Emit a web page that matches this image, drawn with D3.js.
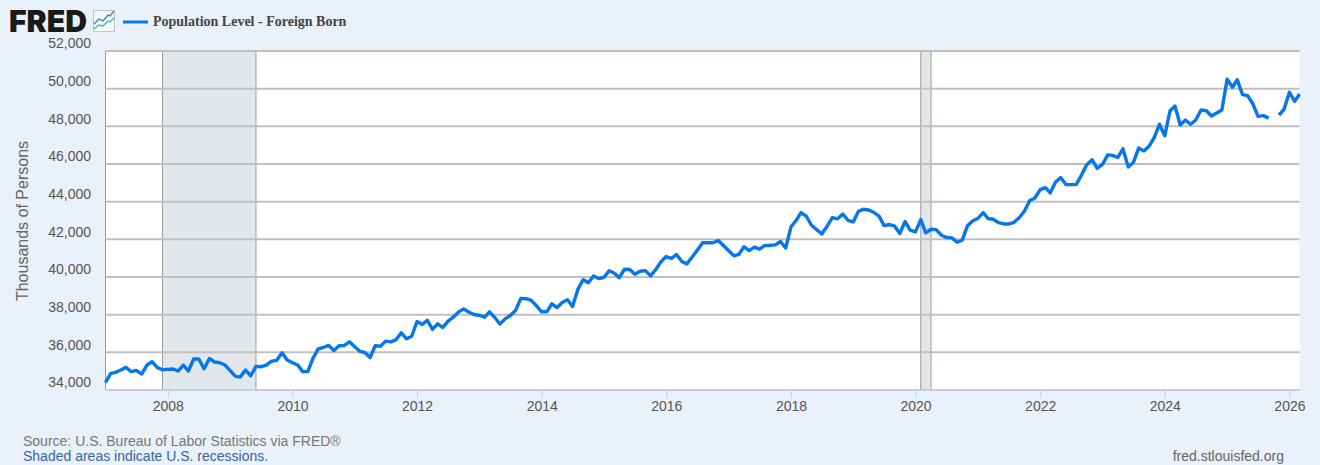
<!DOCTYPE html>
<meta charset="utf-8">
<style>
    body { margin: 0; background: #e9f1fa; }
    svg { display: block; font-family: "Liberation Sans", Arial, sans-serif; }
    .grid line { stroke: #c0c0c0; stroke-width: 2px; }
    .grid path { display: none; }
    .y-labels path, .y-labels line { display: none; }
    .y-labels text { font-size: 14px; fill: #555; }
    .x-axis path { stroke: #c0d0e0; stroke-width: 2px; }
    .x-axis line { stroke: #c0d0e0; }
    .x-axis text { font-size: 14px; fill: #555; }
</style>
<svg width="1320" height="465"></svg>
<script src="https://d3js.org/d3.v7.min.js"></script>
<script>
    // monthly values, thousands of persons, first one is Jan 2007. null = no survey (Oct 2025)
    var firstMonth = "2007-01-01";
    var population = [
        34380, 34860, 34910, 35035, 35175, 34945, 35015, 34820, 35300, 35475, 35160, 35050,
        35070, 35090, 34980, 35300, 34980, 35620, 35620, 35100, 35650, 35460, 35420, 35300,
        35000, 34700, 34660, 35035, 34730, 35230, 35210, 35300, 35510, 35550, 35950, 35565,
        35420, 35300, 34950, 34950, 35650, 36160, 36230, 36340, 36070, 36320, 36340, 36530,
        36265, 36020, 35965, 35700, 36320, 36300, 36570, 36530, 36650, 37010, 36690, 36830,
        37610, 37450, 37680, 37190, 37490, 37290, 37630, 37840, 38120, 38280, 38100, 37980,
        37930, 37840, 38120, 37820, 37480, 37750, 37930, 38200, 38840, 38820, 38730, 38445,
        38125, 38140, 38550, 38355, 38620, 38765, 38410, 39320, 39830, 39670, 40030, 39890,
        39960, 40310, 40190, 39940, 40385, 40370, 40120, 40280, 40310, 40030, 40370, 40780,
        41060, 40955, 41170, 40795, 40670, 41040, 41400, 41790, 41790, 41790, 41910, 41650,
        41370, 41100, 41170, 41580, 41370, 41560, 41450, 41650, 41650, 41680, 41860, 41510,
        42630, 42985, 43390, 43200, 42720, 42490, 42260, 42670, 43130, 43060, 43320, 42985,
        42900, 43460, 43570, 43530, 43410, 43210, 42700, 42760, 42670, 42280, 42920, 42460,
        42370, 43020, 42320, 42510, 42490, 42190, 42070, 42050, 41820, 41930, 42700, 42950,
        43090, 43390, 43080, 43040, 42860, 42790, 42790, 42880, 43130, 43480, 44030, 44170,
        44610, 44720, 44440, 45020, 45250, 44880, 44880, 44890, 45400, 45940, 46200, 45740,
        45950, 46460, 46430, 46320, 46780, 45820, 46050, 46820, 46670, 46920, 47380, 48090,
        47470, 48800, 49050, 48040, 48310, 48080, 48310, 48840, 48800, 48520, 48680, 48840,
        50480, 50050, 50450, 49660, 49600, 49160, 48500, 48540, 48410, null, 48570, 48890,
        49780, 49300, 49690
    ];
    var recessions = [["2007-12-01", "2009-06-01"], ["2020-02-01", "2020-04-01"]];
    var yTicks = [34000, 36000, 38000, 40000, 42000, 44000, 46000, 48000, 50000, 52000];
    var xTicks = [2008, 2010, 2012, 2014, 2016, 2018, 2020, 2022, 2024, 2026];

    var svg = d3.select("svg");
    var left = 105.5, right = 1299.5, top_ = 50.5, bottom = 389.5;

    var start = new Date(firstMonth);
    var rows = population.map(function (v, i) {
        return { date: d3.utcMonth.offset(start, i), value: v };
    });

    var x = d3.scaleUtc()
        .domain([start, rows[rows.length - 1].date])
        .range([left, right]);
    var y = d3.scaleLinear().domain([34000, 52000]).range([bottom, top_]);

    // plot background
    svg.append("rect")
        .attr("x", left).attr("y", top_)
        .attr("width", right - left).attr("height", bottom - top_)
        .attr("fill", "#fff");

    // recession bands sit under the grid
    var bands = svg.append("g").selectAll("g").data(recessions).enter().append("g");
    bands.append("rect")
        .attr("x", function (d) { return x(new Date(d[0])); })
        .attr("y", top_)
        .attr("width", function (d) { return x(new Date(d[1])) - x(new Date(d[0])); })
        .attr("height", bottom - top_)
        .attr("fill", "#e2e7ec");
    [0, 1].forEach(function (k) {
        bands.append("line")
            .attr("x1", function (d) { return x(new Date(d[k])); })
            .attr("x2", function (d) { return x(new Date(d[k])); })
            .attr("y1", top_).attr("y2", bottom)
            .attr("stroke", "#9a9a9a");
    });

    // left edge
    svg.append("line")
        .attr("x1", left).attr("x2", left)
        .attr("y1", top_).attr("y2", bottom)
        .attr("stroke", "#9a9a9a");

    // horizontal grid, the bottom one is the x axis line
    svg.append("g")
        .attr("class", "grid")
        .attr("transform", "translate(" + left + ",0)")
        .call(d3.axisRight(y)
            .tickValues(yTicks.slice(1))
            .tickSize(right - left)
            .tickFormat(""));

    svg.append("g")
        .attr("class", "y-labels")
        .attr("transform", "translate(91,-7)")
        .call(d3.axisLeft(y)
            .tickValues(yTicks)
            .tickSize(0)
            .tickPadding(0)
            .tickFormat(d3.format(",")));

    svg.append("g")
        .attr("class", "x-axis")
        .attr("transform", "translate(0," + bottom + ")")
        .call(d3.axisBottom(x)
            .tickValues(xTicks.map(function (yr) { return new Date(Date.UTC(yr, 0, 1)); }))
            .tickSize(8)
            .tickSizeOuter(0)
            .tickPadding(4)
            .tickFormat(d3.utcFormat("%Y")));

    var line = d3.line()
        .defined(function (d) { return d.value !== null; })
        .x(function (d) { return x(d.date); })
        .y(function (d) { return y(d.value); });

    svg.append("path")
        .datum(rows)
        .attr("d", line)
        .attr("fill", "none")
        .attr("stroke", "#0676e8")
        .attr("stroke-width", 3.4)
        .attr("stroke-linejoin", "round");

    // y title
    svg.append("text")
        .attr("transform", "translate(28,221) rotate(-90)")
        .attr("text-anchor", "middle")
        .attr("font-size", 16)
        .attr("fill", "#666")
        .text("Thousands of Persons");

    // logo
    svg.append("text")
        .attr("x", 9).attr("y", 32)
        .attr("font-family", "Inter, 'Liberation Sans', sans-serif")
        .attr("font-size", 30)
        .attr("font-weight", 900)
        .attr("fill", "#1a1a1a")
        .attr("textLength", 78)
        .attr("lengthAdjust", "spacingAndGlyphs")
        .text("FRED");
    svg.append("rect")
        .attr("x", 93.5).attr("y", 10.5)
        .attr("width", 21).attr("height", 21)
        .attr("fill", "#f4f7fb")
        .attr("stroke", "#c4c4c4");
    svg.append("path")
        .attr("d", "M94,24 L99,19 L103,21 L108,15 L110,16 L114,11")
        .attr("fill", "none").attr("stroke", "#2a7fd6").attr("stroke-width", 1.3);
    svg.append("path")
        .attr("d", "M94,29 L99,25 L103,26 L108,21 L110,22 L114,18")
        .attr("fill", "none").attr("stroke", "#4db39a").attr("stroke-width", 1.3);

    // legend
    svg.append("line")
        .attr("x1", 123).attr("x2", 148)
        .attr("y1", 22).attr("y2", 22)
        .attr("stroke", "#0676e8")
        .attr("stroke-width", 3);
    svg.append("text")
        .attr("x", 153).attr("y", 26)
        .attr("font-family", "'Liberation Serif', serif")
        .attr("font-weight", "bold")
        .attr("font-size", 14)
        .attr("fill", "#444")
        .text("Population Level - Foreign Born");

    // footer
    svg.append("text")
        .attr("x", 23).attr("y", 446)
        .attr("font-size", 14)
        .attr("fill", "#777")
        .text("Source: U.S. Bureau of Labor Statistics via FRED\u00ae");
    svg.append("text")
        .attr("x", 23).attr("y", 461)
        .attr("font-size", 14)
        .attr("fill", "#3c64a0")
        .text("Shaded areas indicate U.S. recessions.");
    svg.append("text")
        .attr("x", 1284).attr("y", 461)
        .attr("text-anchor", "end")
        .attr("font-size", 14)
        .attr("fill", "#666")
        .text("fred.stlouisfed.org");
</script>
